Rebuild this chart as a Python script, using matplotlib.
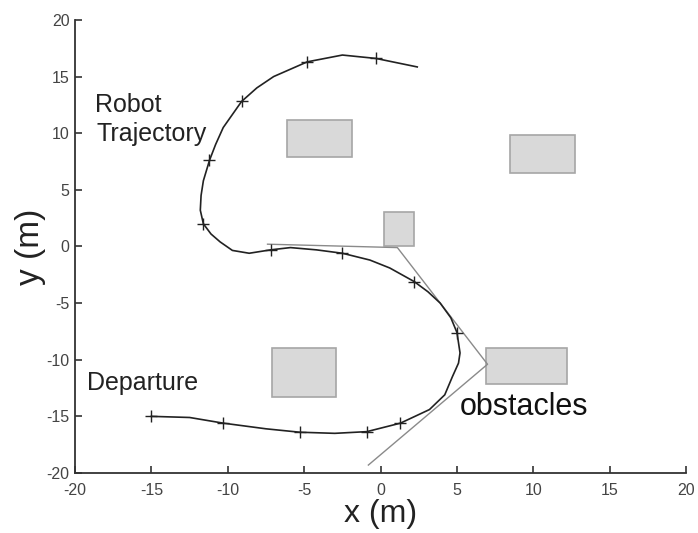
import matplotlib.pyplot as plt
from matplotlib.patches import Rectangle

plt.rcParams['font.family'] = ['Liberation Sans', 'DejaVu Sans']
plt.rcParams['axes.unicode_minus'] = False

# robot trajectory (m)
traj_x = [-15, -12.5, -10.3, -7.5, -5.3, -3.0, -0.9, 1.3, 3.2, 4.2, 4.7, 5.1, 5.2, 5.0, 4.6, 3.9, 3.1, 2.2,
          0.6, -0.7, -2.5, -4.2, -5.9, -7.2, -8.6, -9.7, -10.5, -11.1, -11.6, -11.8, -11.75, -11.6, -11.2,
          -10.8, -10.3, -9.1, -8.1, -7.0, -4.8, -2.5, -0.3, 2.4]
traj_y = [-15, -15.1, -15.6, -16.1, -16.4, -16.5, -16.35, -15.6, -14.4, -13.1, -11.5, -10.3, -9.4, -7.6, -6.3,
          -5.0, -4.0, -3.1, -1.9, -1.2, -0.6, -0.3, -0.1, -0.3, -0.6, -0.35, 0.4, 1.1, 2.0, 3.2, 4.5, 5.8, 7.6,
          9.0, 10.5, 12.8, 14.0, 15.0, 16.3, 16.9, 16.6, 15.85]

# '+' markers along the path
mark_x = [-15, -10.3, -5.3, -0.9, 1.3, 5.0, 2.2, -2.5, -7.2, -11.6, -11.2, -9.1, -4.8, -0.3]
mark_y = [-15, -15.6, -16.4, -16.35, -15.6, -7.6, -3.1, -0.6, -0.3, 2.0, 7.6, 12.8, 16.3, 16.6]

# thin guide line
guide_x = [-7.4, 1.1, 7.0, -0.8]
guide_y = [0.2, -0.1, -10.4, -19.3]

# obstacles: x0, y0, width, height
obs_x = [-6.1, 8.5, 0.2, 6.9, -7.1]
obs_y = [7.9, 6.5, 0.0, -12.1, -13.3]
obs_w = [4.2, 4.2, 2.0, 5.3, 4.2]
obs_h = [3.3, 3.3, 3.0, 3.1, 4.3]

fig = plt.figure(figsize=(6.98, 5.33), dpi=100)
ax = fig.add_axes([0.1075, 0.1126, 0.8755, 0.85])

for x0, y0, w, h in zip(obs_x, obs_y, obs_w, obs_h):
    ax.add_patch(Rectangle((x0, y0), w, h, facecolor='#d9d9d9', edgecolor='#a6a6a6', linewidth=1.2))

ax.plot(guide_x, guide_y, color='#8a8a8a', linewidth=1.0)
ax.plot(traj_x, traj_y, color='#222222', linewidth=1.2)
ax.plot(mark_x, mark_y, linestyle='none', marker='+', color='#222222', markersize=8, markeredgewidth=1.0)

ax.text(-18.7, 11.9, 'Robot', fontsize=18, color='#222222')
ax.text(-18.6, 9.3, 'Trajectory', fontsize=18, color='#222222')
ax.text(-19.2, -12.7, 'Departure', fontsize=18, color='#222222')
ax.text(5.2, -14.9, 'obstacles', fontsize=22, color='#111111')

ax.set_xlim(-20, 20)
ax.set_ylim(-20, 20)
ax.set_xticks(range(-20, 21, 5))
ax.set_yticks(range(-20, 21, 5))
ax.spines['top'].set_visible(False)
ax.spines['right'].set_visible(False)
for s in ['left', 'bottom']:
    ax.spines[s].set_color('#333333')
    ax.spines[s].set_linewidth(1.3)
ax.tick_params(direction='in', length=5, width=1.2, color='#333333', labelcolor='#444444', labelsize=11.5)
ax.tick_params(axis='x', pad=7)
ax.tick_params(axis='y', pad=4)

ax.set_xlabel('x (m)', fontsize=23, color='#222222', labelpad=1)
ax.set_ylabel('y (m)', fontsize=24, color='#222222', labelpad=0)

fig.savefig('out.png', dpi=100)
